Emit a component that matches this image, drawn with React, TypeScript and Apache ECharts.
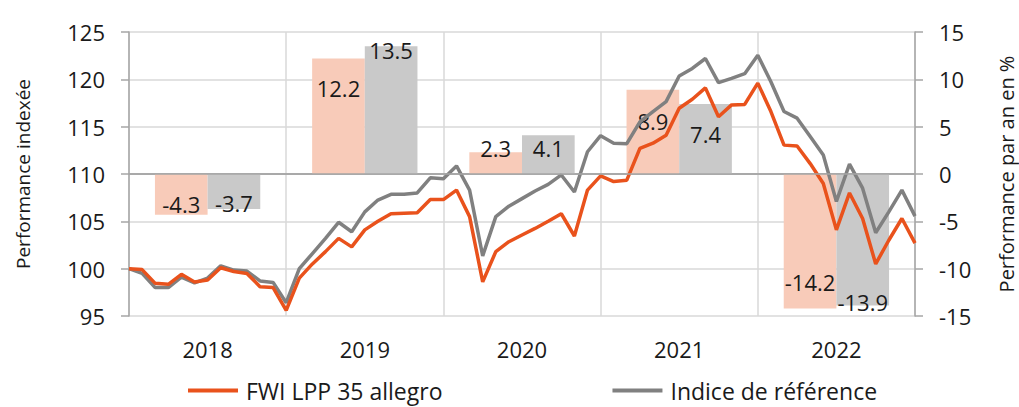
import React, { useEffect, useRef } from "react";
import * as echarts from "echarts";

const years = ["2018", "2019", "2020", "2021", "2022"];
const fwiAnnual = [-4.3, 12.2, 2.3, 8.9, -14.2];
const refAnnual = [-3.7, 13.5, 4.1, 7.4, -13.9];

// Monthly indexed performance, Dec 2017 (index 0) to Dec 2022 (index 60)
const fwiMonthly = [
  100.0, 99.9, 98.45, 98.35, 99.4, 98.6, 98.8, 100.1, 99.7, 99.5, 98.1, 98.0, 95.6,
  99.0, 100.5, 101.8, 103.2, 102.3, 104.1, 105.0, 105.8, 105.85, 105.9, 107.3, 107.3,
  108.3, 105.5, 98.6, 101.8, 102.85, 103.55, 104.25, 105.0, 105.8, 103.45, 108.3, 109.8,
  109.2, 109.35, 112.7, 113.25, 114.1, 116.95, 117.9, 119.1, 116.05, 117.3, 117.35, 119.6,
  116.6, 113.05, 112.95, 111.1, 109.0, 104.1, 108.0, 105.3, 100.5, 103.0, 105.3, 102.7,
];
const refMonthly = [
  100.0, 99.5, 98.0, 98.0, 99.1, 98.5, 99.0, 100.3, 99.85, 99.75, 98.7, 98.55, 96.4,
  100.0, 101.6, 103.2, 104.9, 103.9, 106.0, 107.25, 107.85, 107.85, 108.0, 109.6, 109.5,
  110.85, 108.3, 101.35, 105.5, 106.6, 107.4, 108.2, 108.9, 109.9, 108.1, 112.35, 114.05,
  113.25, 113.2, 115.5, 116.6, 117.65, 120.35, 121.15, 122.2, 119.65, 120.1, 120.6, 122.55,
  119.75, 116.6, 115.9, 113.95, 112.0, 107.1, 111.05, 108.5, 103.8, 106.0, 108.3, 105.55,
];

const leftTicks = { min: 95, max: 125, interval: 5 };
const rightTicks = { min: -15, max: 15, interval: 5 };

// label vertical offsets (style only)
const fwiLabelOffsets = [10, -28, -15, -11, 41];
const refLabelOffsets = [11.5, -60, -6.6, -4.5, 62];

const FONT = "'Open Sans', sans-serif";
const TXT = "#1a1a1a";
const AXIS = "#a6a6a6";
const GRID = "#d9d9d9";

export default function App() {
  const ref = useRef<HTMLDivElement>(null);
  useEffect(() => {
    if (!ref.current) return;
    document.body.style.margin = "0";
    document.body.style.overflow = "hidden";
    const chart = echarts.init(ref.current, undefined, {
      renderer: "svg",
      width: 1019,
      height: 407,
    });
    const labelBase = {
      show: true,
      position: "inside",
      fontFamily: FONT,
      fontSize: 22,
      color: TXT,
    };
    chart.setOption({
      animation: false,
      textStyle: { fontFamily: FONT },
      grid: {
        left: 129,
        right: 104,
        top: 32,
        bottom: 91,
        containLabel: false,
        outerBoundsMode: "none",
      },
      legend: {
        data: [
          { name: "FWI LPP 35 allegro", icon: "rect" },
          { name: "Indice de référence", icon: "rect" },
        ],
        left: 183,
        top: 374,
        itemWidth: 50,
        itemHeight: 4,
        itemGap: 170,
        textStyle: { fontFamily: FONT, fontSize: 23, color: TXT, padding: [0, 0, 0, 3] },
      },
      xAxis: [
        {
          type: "category",
          data: years,
          position: "bottom",
          axisLine: { show: true, lineStyle: { color: AXIS, width: 1.5 } },
          axisTick: { show: false },
          splitLine: { show: true, lineStyle: { color: GRID, width: 1.5 } },
          axisLabel: { fontFamily: FONT, fontSize: 22, color: TXT, margin: 22 },
        },
        { type: "value", min: 0, max: 60, show: false },
      ],
      yAxis: [
        {
          type: "value",
          ...leftTicks,
          position: "left",
          name: "Performance indexée",
          nameLocation: "middle",
          nameGap: 97,
          nameTextStyle: { fontFamily: FONT, fontSize: 19, color: TXT },
          axisLine: { show: true, lineStyle: { color: AXIS, width: 1.5 } },
          axisTick: { show: true, length: 8, lineStyle: { color: AXIS, width: 1.5 } },
          splitLine: { show: true, lineStyle: { color: GRID, width: 1.5 } },
          axisLabel: { fontFamily: FONT, fontSize: 22, color: TXT, margin: 24 },
        },
        {
          type: "value",
          ...rightTicks,
          position: "right",
          name: "Performance par an en %",
          nameLocation: "middle",
          nameGap: 81,
          nameRotate: 90,
          nameTextStyle: { fontFamily: FONT, fontSize: 20, color: TXT },
          axisLine: { show: true, lineStyle: { color: AXIS, width: 1.5 } },
          axisTick: { show: true, length: 8, lineStyle: { color: AXIS, width: 1.5 } },
          splitLine: { show: false },
          axisLabel: { fontFamily: FONT, fontSize: 22, color: TXT, margin: 24 },
        },
      ],
      series: [
        {
          name: "FWI LPP 35 allegro (an)",
          type: "bar",
          xAxisIndex: 0,
          yAxisIndex: 1,
          barGap: "0%",
          barCategoryGap: "33%",
          itemStyle: { color: "#f8cbb9" },
          data: fwiAnnual.map((v, i) => ({
            value: v,
            label: { ...labelBase, offset: [0, fwiLabelOffsets[i]] },
          })),
        },
        {
          name: "Indice de référence (an)",
          type: "bar",
          xAxisIndex: 0,
          yAxisIndex: 1,
          barGap: "0%",
          barCategoryGap: "33%",
          itemStyle: { color: "#c9c9c9" },
          data: refAnnual.map((v, i) => ({
            value: v,
            label: { ...labelBase, offset: [0, refLabelOffsets[i]] },
          })),
          markLine: {
            silent: true,
            symbol: ["none", "none"],
            label: { show: false },
            lineStyle: { color: AXIS, width: 1.5, type: "solid" },
            data: [{ yAxis: 0 }],
          },
        },
        {
          name: "Indice de référence",
          type: "line",
          xAxisIndex: 1,
          yAxisIndex: 0,
          symbol: "none",
          color: "#808080",
          lineStyle: { color: "#808080", width: 3.5 },
          data: refMonthly.map((v, i) => [i, v]),
          z: 3,
        },
        {
          name: "FWI LPP 35 allegro",
          type: "line",
          xAxisIndex: 1,
          yAxisIndex: 0,
          symbol: "none",
          color: "#e9521c",
          lineStyle: { color: "#e9521c", width: 3.5 },
          data: fwiMonthly.map((v, i) => [i, v]),
          z: 4,
        },
      ],
    });
    return () => chart.dispose();
  }, []);
  return (
    <div
      ref={ref}
      style={{ position: "fixed", left: 0, top: 0, width: 1019, height: 407, background: "#fff" }}
    />
  );
}
